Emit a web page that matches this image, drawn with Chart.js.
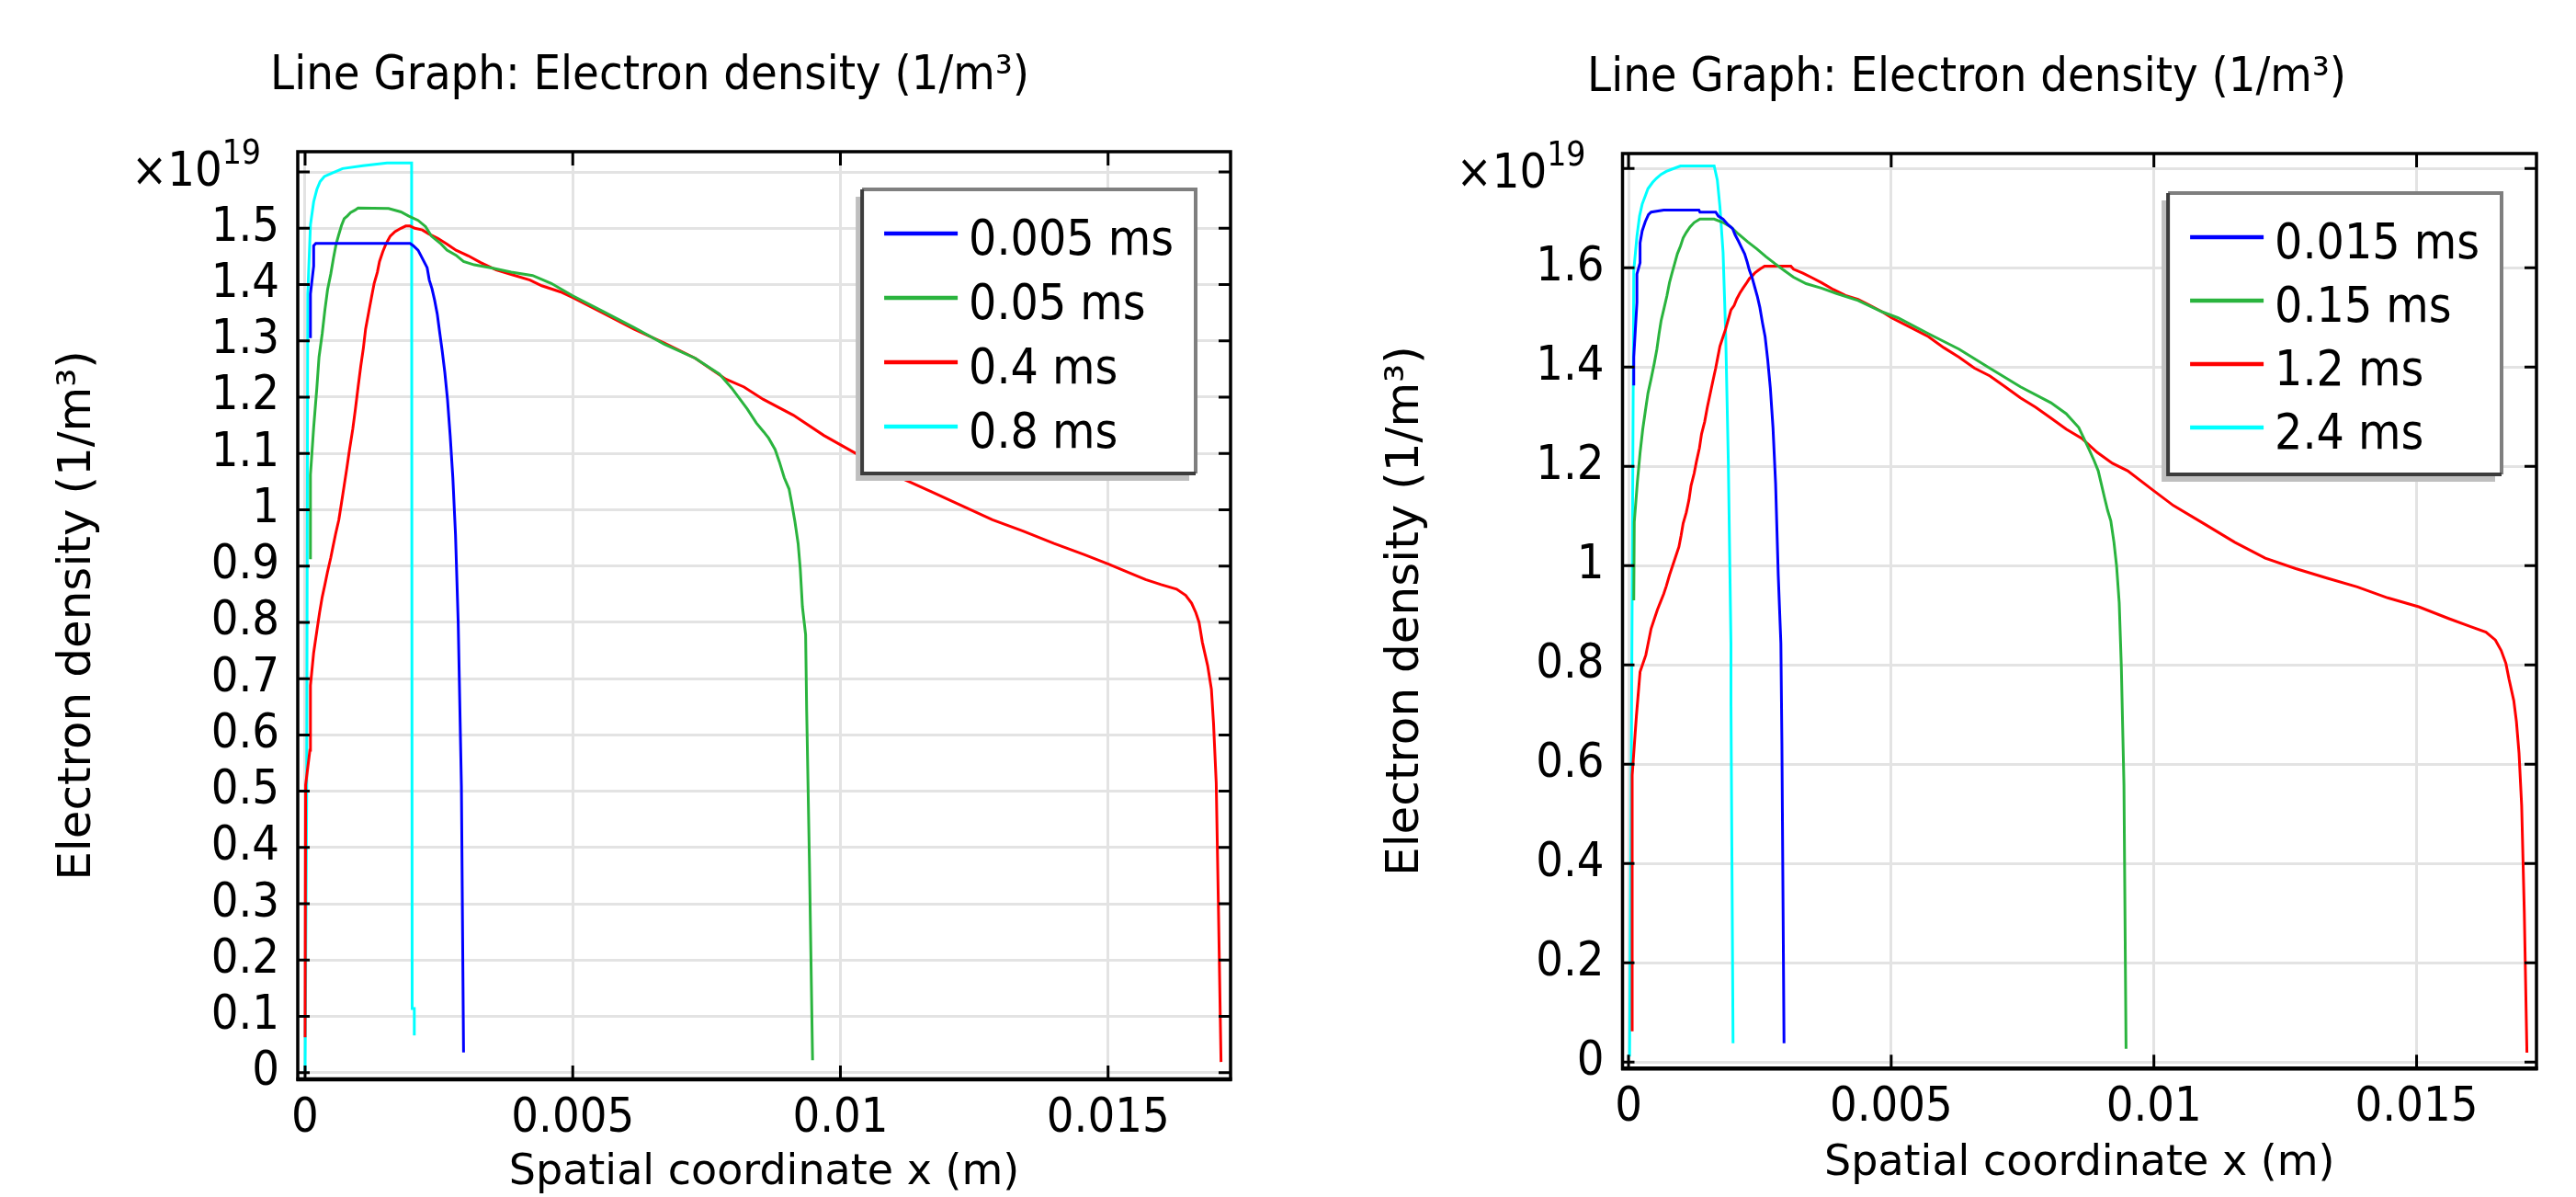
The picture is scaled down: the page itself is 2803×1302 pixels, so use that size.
<!DOCTYPE html>
<html>
<head>
<meta charset="utf-8">
<title>Electron density</title>
<script src="https://cdn.jsdelivr.net/npm/chart.js@4.4.1/dist/chart.umd.min.js"></script>
<style>
  html, body { margin: 0; padding: 0; background: #fff; }
  body { width: 2803px; height: 1302px; position: relative; overflow: hidden; }
  canvas { position: absolute; top: 0; }
  #leftChart { left: 0; }
  #rightChart { left: 1400px; }
</style>
</head>
<body>
<canvas id="leftChart" width="1400" height="1302"></canvas>
<canvas id="rightChart" width="1403" height="1302"></canvas>
<script>
// ---- left plot: 0.005 / 0.05 / 0.4 / 0.8 ms ----
const leftLabels = ['0.005 ms', '0.05 ms', '0.4 ms', '0.8 ms'];

const leftBlueX = [0.0001, 0.0001, 0.00016, 0.00016, 0.0002, 0.00196, 0.00202, 0.00211, 0.00216, 0.00222, 0.00228, 0.00232, 0.00237, 0.00242, 0.00247, 0.00251, 0.00256, 0.00261, 0.00266, 0.00271, 0.00276, 0.00281, 0.00286, 0.00292, 0.00296];
const leftBlueY = [1.305, 1.383, 1.433, 1.469, 1.473, 1.473, 1.469, 1.461, 1.452, 1.441, 1.430, 1.408, 1.393, 1.372, 1.347, 1.318, 1.283, 1.244, 1.196, 1.132, 1.057, 0.955, 0.800, 0.509, 0.036];

const leftGreenX = [0.0001, 0.0001, 0.00016, 0.00022, 0.00026, 0.00032, 0.00037, 0.00042, 0.00048, 0.00053, 0.00058, 0.00063, 0.00068, 0.00073, 0.00079, 0.00085, 0.00093, 0.00099, 0.00156, 0.00179, 0.00193, 0.00211, 0.00225, 0.00236, 0.00254, 0.00265, 0.00282, 0.00296, 0.00316, 0.00351, 0.00385, 0.00425, 0.0046, 0.005, 0.00557, 0.00614, 0.00671, 0.00729, 0.00774, 0.00797, 0.00826, 0.00843, 0.00857, 0.00866, 0.00878, 0.00886, 0.00895, 0.00904, 0.00909, 0.00915, 0.00921, 0.00925, 0.00929, 0.00935, 0.00937, 0.00942, 0.00948];
const leftGreenY = [0.912, 1.062, 1.146, 1.217, 1.271, 1.313, 1.355, 1.391, 1.419, 1.447, 1.472, 1.489, 1.505, 1.517, 1.522, 1.528, 1.532, 1.536, 1.535, 1.529, 1.522, 1.514, 1.503, 1.486, 1.472, 1.461, 1.452, 1.441, 1.435, 1.429, 1.422, 1.416, 1.402, 1.380, 1.352, 1.324, 1.294, 1.269, 1.241, 1.216, 1.179, 1.154, 1.138, 1.127, 1.107, 1.085, 1.057, 1.037, 1.012, 0.979, 0.940, 0.895, 0.828, 0.778, 0.642, 0.380, 0.022];

const leftRedX = [0, 0.00001, 0.00009, 0.0001, 0.00016, 0.00022, 0.00027, 0.00032, 0.00037, 0.00042, 0.00048, 0.00052, 0.00057, 0.00063, 0.00068, 0.00073, 0.00078, 0.00083, 0.00089, 0.00094, 0.00099, 0.00104, 0.00109, 0.00113, 0.00119, 0.00124, 0.00129, 0.00135, 0.00139, 0.00145, 0.00151, 0.00159, 0.00168, 0.00179, 0.00188, 0.00196, 0.00205, 0.00219, 0.00231, 0.00248, 0.00265, 0.00282, 0.00305, 0.00328, 0.00357, 0.00385, 0.0042, 0.00442, 0.00477, 0.005, 0.00557, 0.00614, 0.00671, 0.00729, 0.00786, 0.0082, 0.00856, 0.00912, 0.00969, 0.01027, 0.01112, 0.0117, 0.01227, 0.01284, 0.01341, 0.01399, 0.01456, 0.01502, 0.01542, 0.0157, 0.01599, 0.01628, 0.01645, 0.01656, 0.01664, 0.0167, 0.01676, 0.01686, 0.01693, 0.01697, 0.01702, 0.01706, 0.01711];
const leftRedY = [0.063, 0.511, 0.573, 0.688, 0.746, 0.785, 0.817, 0.845, 0.867, 0.890, 0.915, 0.934, 0.957, 0.982, 1.012, 1.043, 1.074, 1.107, 1.143, 1.179, 1.218, 1.255, 1.288, 1.321, 1.352, 1.377, 1.402, 1.422, 1.441, 1.458, 1.472, 1.486, 1.494, 1.500, 1.504, 1.504, 1.500, 1.497, 1.490, 1.482, 1.472, 1.461, 1.451, 1.439, 1.426, 1.418, 1.408, 1.398, 1.387, 1.377, 1.349, 1.321, 1.296, 1.269, 1.232, 1.218, 1.196, 1.168, 1.132, 1.101, 1.057, 1.032, 1.007, 0.982, 0.962, 0.940, 0.920, 0.903, 0.887, 0.876, 0.867, 0.859, 0.848, 0.834, 0.817, 0.800, 0.765, 0.723, 0.681, 0.620, 0.515, 0.301, 0.019];

const leftCyanX = [0, 0.00003, 0.00005, 0.0001, 0.00016, 0.00022, 0.00028, 0.00036, 0.00048, 0.0007, 0.00108, 0.00153, 0.00199, 0.002, 0.00204, 0.00204];
const leftCyanY = [0.0, 0.5, 1.383, 1.506, 1.547, 1.569, 1.583, 1.592, 1.597, 1.606, 1.611, 1.616, 1.616, 0.114, 0.114, 0.066];

const leftYTicks = [0, 0.1, 0.2, 0.3, 0.4, 0.5, 0.6, 0.7, 0.8, 0.9, 1, 1.1, 1.2, 1.3, 1.4, 1.5, 1.6];
const leftYTickLabels = ['0', '0.1', '0.2', '0.3', '0.4', '0.5', '0.6', '0.7', '0.8', '0.9', '1', '1.1', '1.2', '1.3', '1.4', '1.5', ''];

// ---- right plot: 0.015 / 0.15 / 1.2 / 2.4 ms ----
const rightLabels = ['0.015 ms', '0.15 ms', '1.2 ms', '2.4 ms'];

const rightBlueX = [0.0001, 0.0001, 0.00016, 0.00016, 0.00022, 0.00022, 0.00026, 0.00032, 0.00038, 0.00043, 0.00067, 0.00134, 0.00136, 0.00166, 0.00171, 0.0018, 0.00189, 0.00198, 0.00203, 0.00209, 0.00215, 0.00221, 0.00226, 0.0023, 0.00235, 0.0024, 0.00245, 0.0025, 0.00255, 0.0026, 0.00265, 0.0027, 0.00275, 0.0028, 0.00285, 0.0029, 0.00292, 0.00296];
const rightBlueY = [1.363, 1.42, 1.53, 1.587, 1.61, 1.65, 1.674, 1.693, 1.707, 1.712, 1.716, 1.716, 1.712, 1.712, 1.704, 1.698, 1.687, 1.679, 1.666, 1.654, 1.641, 1.628, 1.611, 1.595, 1.581, 1.562, 1.543, 1.52, 1.489, 1.461, 1.414, 1.357, 1.278, 1.164, 0.981, 0.843, 0.639, 0.038];

const rightGreenX = [0.0001, 0.00011, 0.00017, 0.00022, 0.00027, 0.00032, 0.00037, 0.00043, 0.00049, 0.00054, 0.00058, 0.00062, 0.00068, 0.00073, 0.00078, 0.00083, 0.00088, 0.00093, 0.00099, 0.00104, 0.0011, 0.00117, 0.00125, 0.00136, 0.00163, 0.0018, 0.00195, 0.00209, 0.00227, 0.00244, 0.00262, 0.00279, 0.00297, 0.00314, 0.00338, 0.00367, 0.00396, 0.00437, 0.00483, 0.00513, 0.00571, 0.00629, 0.00687, 0.00746, 0.00804, 0.00833, 0.00857, 0.00874, 0.00886, 0.00894, 0.009, 0.00906, 0.00912, 0.00918, 0.00924, 0.00929, 0.00934, 0.00938, 0.00943, 0.00947];
const rightGreenY = [0.93, 1.088, 1.17, 1.227, 1.274, 1.311, 1.347, 1.376, 1.407, 1.436, 1.466, 1.493, 1.52, 1.543, 1.57, 1.59, 1.609, 1.628, 1.644, 1.66, 1.671, 1.682, 1.691, 1.698, 1.698, 1.691, 1.682, 1.668, 1.652, 1.638, 1.622, 1.608, 1.594, 1.581, 1.568, 1.559, 1.548, 1.534, 1.511, 1.499, 1.467, 1.436, 1.398, 1.36, 1.328, 1.306, 1.278, 1.24, 1.212, 1.191, 1.164, 1.137, 1.111, 1.09, 1.047, 0.999, 0.925, 0.797, 0.558, 0.027];

const rightRedX = [0.00007, 0.00007, 0.00015, 0.00022, 0.00033, 0.00043, 0.00049, 0.00055, 0.00061, 0.00067, 0.00072, 0.00078, 0.00084, 0.0009, 0.00096, 0.001, 0.00104, 0.0011, 0.00115, 0.00119, 0.00125, 0.00129, 0.00135, 0.00139, 0.00145, 0.0015, 0.00155, 0.0016, 0.00166, 0.0017, 0.00174, 0.0018, 0.00185, 0.0019, 0.00195, 0.00201, 0.00206, 0.00212, 0.00218, 0.00224, 0.0023, 0.00236, 0.00241, 0.0025, 0.00259, 0.00309, 0.00314, 0.00332, 0.00349, 0.00367, 0.0039, 0.00413, 0.00437, 0.0046, 0.00483, 0.00501, 0.00542, 0.00571, 0.006, 0.00629, 0.00658, 0.00688, 0.00717, 0.00746, 0.00775, 0.00804, 0.00833, 0.00863, 0.00892, 0.00921, 0.0095, 0.00997, 0.01037, 0.01096, 0.01154, 0.01212, 0.0127, 0.01329, 0.01387, 0.01445, 0.01504, 0.01562, 0.01603, 0.01632, 0.0165, 0.01661, 0.0167, 0.01676, 0.01685, 0.0169, 0.01695, 0.017, 0.01705, 0.0171];
const rightRedY = [0.062, 0.578, 0.697, 0.786, 0.82, 0.873, 0.892, 0.911, 0.927, 0.943, 0.959, 0.981, 1.0, 1.019, 1.038, 1.06, 1.085, 1.107, 1.132, 1.161, 1.186, 1.208, 1.237, 1.265, 1.29, 1.319, 1.344, 1.369, 1.398, 1.42, 1.442, 1.461, 1.477, 1.496, 1.515, 1.524, 1.537, 1.549, 1.559, 1.568, 1.578, 1.584, 1.59, 1.597, 1.603, 1.603, 1.597, 1.589, 1.58, 1.57, 1.556, 1.544, 1.536, 1.524, 1.511, 1.499, 1.477, 1.461, 1.439, 1.42, 1.398, 1.382, 1.36, 1.338, 1.319, 1.297, 1.275, 1.256, 1.228, 1.206, 1.191, 1.153, 1.121, 1.084, 1.047, 1.015, 0.994, 0.975, 0.957, 0.935, 0.917, 0.893, 0.877, 0.866, 0.85, 0.829, 0.803, 0.771, 0.728, 0.686, 0.622, 0.516, 0.303, 0.019];

const rightCyanX = [0.00002, 0.00005, 0.0001, 0.00016, 0.00021, 0.00026, 0.00032, 0.00037, 0.00046, 0.00053, 0.00062, 0.00072, 0.00084, 0.00099, 0.00163, 0.00169, 0.00174, 0.0018, 0.00185, 0.0019, 0.00195, 0.00195, 0.00199];
const rightCyanY = [0.011, 0.516, 1.594, 1.663, 1.704, 1.728, 1.745, 1.759, 1.772, 1.78, 1.788, 1.794, 1.799, 1.805, 1.805, 1.777, 1.723, 1.631, 1.464, 1.208, 0.843, 0.728, 0.038];

const rightYTicks = [0, 0.2, 0.4, 0.6, 0.8, 1, 1.2, 1.4, 1.6, 1.8];
const rightYTickLabels = ['0', '0.2', '0.4', '0.6', '0.8', '1', '1.2', '1.4', '1.6', ''];

// shared x axis ticks
const xTicks = [0, 0.005, 0.01, 0.015];
const xTickLabels = ['0', '0.005', '0.01', '0.015'];

const seriesColors = ['#0000ff', '#2ab43e', '#ff0000', '#00ffff'];

const COND = '"DejaVu Sans Condensed", "DejaVu Sans", sans-serif';
const REG = '"DejaVu Sans", sans-serif';

function pts(xs, ys) {
    return xs.map((v, i) => ({ x: v, y: ys[i] }));
}

// black frame round the plot and inward ticks on all four sides
const frameTicks = {
    id: 'frameTicks',
    afterDatasetsDraw(chart) {
        const { ctx, chartArea: { left, right, top, bottom }, scales: { x, y } } = chart;
        ctx.save();
        ctx.strokeStyle = '#000';
        ctx.lineWidth = 3;
        ctx.beginPath();
        x.ticks.forEach(t => {
            const px = x.getPixelForValue(t.value);
            ctx.moveTo(px, top); ctx.lineTo(px, top + 15);
            ctx.moveTo(px, bottom); ctx.lineTo(px, bottom - 15);
        });
        y.ticks.forEach(t => {
            const py = y.getPixelForValue(t.value);
            ctx.moveTo(left, py); ctx.lineTo(left + 13, py);
            ctx.moveTo(right, py); ctx.lineTo(right - 13, py);
        });
        ctx.stroke();
        ctx.lineWidth = 3.5;
        ctx.strokeRect(left, top, right - left, bottom - top);
        ctx.lineWidth = 4.5;
        ctx.beginPath();
        ctx.moveTo(left - 1.5, bottom); ctx.lineTo(right + 1.5, bottom);
        ctx.stroke();
        ctx.restore();
    }
};

// legend box in the upper right corner of the plot
const boxLegend = {
    id: 'boxLegend',
    afterDraw(chart, args, opts) {
        const { ctx, chartArea } = chart;
        const sets = chart.data.datasets;
        ctx.save();
        ctx.font = '53px ' + COND;
        const tw = Math.max(...sets.map(d => ctx.measureText(d.label).width));
        const w = 24 + 80 + 12 + tw + 24;
        const h = 48 + opts.rowGap * (sets.length - 1) + 51;
        const bx = chartArea.right - opts.offsetRight - w;
        const by = chartArea.top + opts.offsetTop;

        ctx.fillStyle = '#bfbfbf';
        ctx.fillRect(bx - 7, by + 8, w, h);
        ctx.fillStyle = '#fff';
        ctx.fillRect(bx, by, w, h);

        ctx.lineWidth = 4;
        ctx.strokeStyle = '#7f7f7f';
        ctx.beginPath();
        ctx.moveTo(bx, by); ctx.lineTo(bx + w, by); ctx.lineTo(bx + w, by + h);
        ctx.stroke();
        ctx.strokeStyle = '#3c3c3c';
        ctx.beginPath();
        ctx.moveTo(bx, by); ctx.lineTo(bx, by + h); ctx.lineTo(bx + w, by + h);
        ctx.stroke();

        sets.forEach((d, i) => {
            const ly = by + 48 + i * opts.rowGap;
            ctx.strokeStyle = d.borderColor;
            ctx.lineWidth = 4.5;
            ctx.beginPath();
            ctx.moveTo(bx + 24, ly); ctx.lineTo(bx + 104, ly);
            ctx.stroke();
            ctx.fillStyle = '#000';
            ctx.textAlign = 'left';
            ctx.textBaseline = 'alphabetic';
            ctx.fillText(d.label, bx + 116, ly + 23);
        });
        ctx.restore();
    }
};

// "x10^19" multiplier above the y axis
const multiplier = {
    id: 'multiplier',
    afterDraw(chart, args, opts) {
        const { ctx, chartArea: { left, top } } = chart;
        ctx.save();
        ctx.fillStyle = '#000';
        ctx.textBaseline = 'alphabetic';
        ctx.textAlign = 'right';
        const ex = left - 40;
        ctx.font = '37px ' + COND;
        ctx.fillText(opts.exponent, ex, top + 13);
        const ew = ctx.measureText(opts.exponent).width;
        ctx.font = '52px ' + COND;
        ctx.fillText('\u00d710', ex - ew, top + 37);
        ctx.restore();
    }
};

function makeChart(id, setup) {
    const datasets = setup.series.map((s, i) => ({
        label: setup.labels[i],
        data: pts(s[0], s[1]),
        borderColor: seriesColors[i],
        borderWidth: 3,
        pointRadius: 0,
        tension: 0,
        fill: false
    }));
    return new Chart(document.getElementById(id), {
        type: 'line',
        data: { datasets },
        plugins: [frameTicks, boxLegend, multiplier],
        options: {
            responsive: false,
            animation: false,
            layout: { padding: { left: setup.padLeft, right: setup.padRight, top: 0, bottom: 0 } },
            plugins: {
                legend: { display: false },
                tooltip: { enabled: false },
                title: {
                    display: true,
                    text: 'Line Graph: Electron density (1/m\u00b3)',
                    color: '#000',
                    font: { family: COND, size: 52, weight: 'normal', lineHeight: 1 },
                    padding: { top: setup.titleTop, bottom: setup.titleBottom }
                },
                boxLegend: { offsetRight: 38, offsetTop: setup.legendTop, rowGap: setup.rowGap },
                multiplier: { exponent: '19' }
            },
            scales: {
                x: {
                    type: 'linear',
                    min: setup.xMin,
                    max: setup.xMax,
                    afterBuildTicks: s => { s.ticks = xTicks.map(v => ({ value: v })); },
                    afterFit: s => { s.height = setup.xHeight; },
                    ticks: {
                        callback: (v, i) => xTickLabels[i],
                        color: '#000',
                        font: { family: COND, size: 52, lineHeight: 1 },
                        padding: 17,
                        maxRotation: 0,
                        autoSkip: false
                    },
                    grid: { color: '#e3e3e3', lineWidth: 3, drawTicks: false },
                    border: { display: false },
                    title: {
                        display: true,
                        text: 'Spatial coordinate x (m)',
                        color: '#000',
                        font: { family: REG, size: 46, lineHeight: 1 },
                        padding: { top: 0, bottom: setup.xTitleBottom }
                    }
                },
                y: {
                    type: 'linear',
                    min: setup.yMin,
                    max: setup.yMax,
                    afterBuildTicks: s => { s.ticks = setup.yTicks.map(v => ({ value: v })); },
                    afterFit: s => { s.width = setup.yWidth; },
                    ticks: {
                        callback: (v, i) => setup.yTickLabels[i],
                        color: '#000',
                        font: { family: COND, size: 52, lineHeight: 1 },
                        padding: 20,
                        autoSkip: false
                    },
                    grid: { color: '#e3e3e3', lineWidth: 3, drawTicks: false },
                    border: { display: false },
                    title: {
                        display: true,
                        text: 'Electron density (1/m\u00b3)',
                        color: '#000',
                        font: { family: REG, size: 50, lineHeight: 0.42 },
                        padding: { top: 0, bottom: 0 }
                    }
                }
            }
        }
    });
}

makeChart('leftChart', {
    labels: leftLabels,
    series: [[leftBlueX, leftBlueY], [leftGreenX, leftGreenY], [leftRedX, leftRedY], [leftCyanX, leftCyanY]],
    yTicks: leftYTicks,
    yTickLabels: leftYTickLabels,
    xMin: -0.000137, xMax: 0.017288,
    yMin: -0.0118, yMax: 1.636,
    padLeft: 75, padRight: 61,
    yWidth: 249, xHeight: 128,
    titleTop: 57, titleBottom: 56,
    xTitleBottom: 3,
    legendTop: 41, rowGap: 70
});

makeChart('rightChart', {
    labels: rightLabels,
    series: [[rightBlueX, rightBlueY], [rightGreenX, rightGreenY], [rightRedX, rightRedY], [rightCyanX, rightCyanY]],
    yTicks: rightYTicks,
    yTickLabels: rightYTickLabels,
    xMin: -0.000114, xMax: 0.017282,
    yMin: -0.0131, yMax: 1.830,
    padLeft: 120, padRight: 43,
    yWidth: 245.5, xHeight: 139.7,
    titleTop: 59.5, titleBottom: 55.5,
    xTitleBottom: 13,
    legendTop: 43, rowGap: 69
});
</script>
</body>
</html>
